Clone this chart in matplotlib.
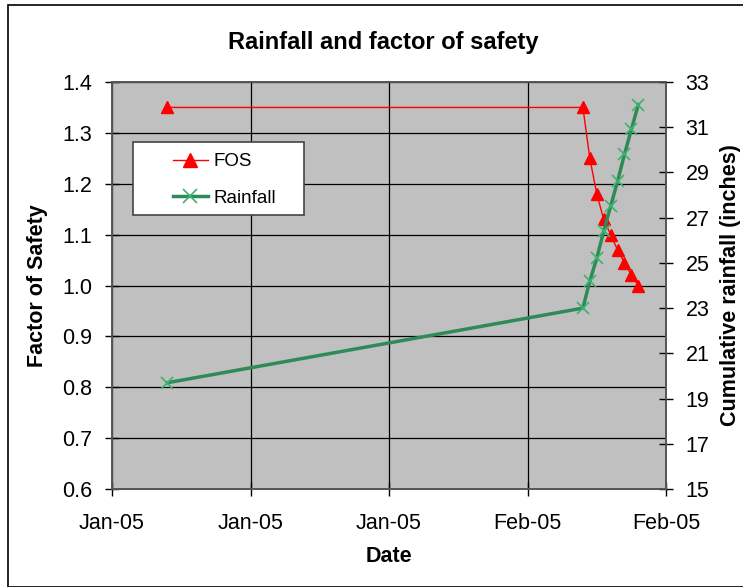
import datetime as dt

import matplotlib.pyplot as plt
import matplotlib.dates as mdates
from matplotlib.lines import Line2D
from matplotlib.patches import Rectangle

plt.rcParams['font.family'] = ['Liberation Sans', 'DejaVu Sans']

# Readings: one early reading, then every 12 hours during the storm
dates = [dt.datetime(2005, 1, 9)] + [
    dt.datetime(2005, 2, 8) + dt.timedelta(hours=12 * k) for k in range(9)
]
fos = [1.35, 1.35, 1.25, 1.18, 1.13, 1.10, 1.07, 1.045, 1.02, 1.00]
rainfall = [19.7, 23.0, 24.2, 25.2, 26.4, 27.5, 28.6, 29.8, 30.9, 32.0]

x_ticks = [dt.datetime(2005, 1, 5) + dt.timedelta(days=10 * k) for k in range(5)]
fos_ticks = [0.6, 0.7, 0.8, 0.9, 1.0, 1.1, 1.2, 1.3, 1.4]
rain_ticks = list(range(15, 34, 2))

red = '#FF0000'
green = '#2E8B57'
marker_green = '#3CB371'
tick_fs = 15.5
label_fs = 15.5

fig = plt.figure(figsize=(7.43, 5.87), dpi=100)
fig.patches.append(Rectangle((8 / 743, 0), 1, 1 - 5 / 587, transform=fig.transFigure,
                             fill=False, edgecolor='black', linewidth=1.2))

ax = fig.add_axes([112 / 743, 1 - 489 / 587, (666 - 112) / 743, (489 - 82) / 587])
ax.set_facecolor('#C0C0C0')
ax.plot(dates, fos, color=red, linewidth=1, marker='^', markersize=9,
        markeredgecolor=red, markerfacecolor=red, zorder=3)

ax.set_xlim(x_ticks[0], x_ticks[-1])
ax.set_xticks(x_ticks)
ax.xaxis.set_major_formatter(mdates.DateFormatter('%b-%y'))
ax.set_ylim(0.6, 1.4)
ax.set_yticks(fos_ticks)
ax.set_yticklabels([f'{v:.1f}' for v in fos_ticks])
ax.grid(True, color='black', linewidth=0.9)
ax.set_axisbelow(True)
ax.tick_params(direction='inout', length=10, width=1, labelsize=tick_fs, pad=9)
ax.tick_params(axis='x', pad=12)
for s in ax.spines.values():
    s.set_color('#555555')
    s.set_linewidth(1.2)

ax.set_xlabel('Date', fontsize=label_fs, fontweight='bold')
ax.xaxis.set_label_coords(0.5, (489 - 557) / 407)
ax.xaxis.label.set_va('center')
ax.set_ylabel('Factor of Safety', fontsize=label_fs, fontweight='bold')
ax.yaxis.set_label_coords((38 - 112) / 554, 0.5)
ax.yaxis.label.set_va('center')

ax2 = ax.twinx()
ax2.plot(dates, rainfall, color=green, linewidth=2.5, marker='x', markersize=9,
         markeredgecolor=marker_green, markeredgewidth=1.2, zorder=3)
ax2.set_ylim(15, 33)
ax2.set_yticks(rain_ticks)
ax2.tick_params(direction='inout', length=10, width=1, labelsize=tick_fs, pad=9)
ax2.set_ylabel('Cumulative rainfall (inches)', fontsize=label_fs, fontweight='bold')
ax2.yaxis.set_label_coords((731 - 112) / 554, 0.5)
ax2.yaxis.label.set_va('center')
for s in ax2.spines.values():
    s.set_color('#555555')
    s.set_linewidth(1.2)

# legend box drawn separately so the entries can sit inset from its left edge
ax2.add_patch(Rectangle((21 / 554, (489 - 215) / 407), 171 / 554, 73 / 407,
                        transform=ax2.transAxes, facecolor='white',
                        edgecolor='#444444', linewidth=1.2, zorder=4))
handles = [
    Line2D([], [], color=red, linewidth=1, marker='^', markersize=10),
    Line2D([], [], color=green, linewidth=2.5, marker='x', markersize=10,
           markeredgecolor=marker_green, markeredgewidth=1.2),
]
ax2.legend(handles, ['FOS', 'Rainfall'], loc='upper left',
           bbox_to_anchor=((173 - 112) / 554, (489 - 153) / 407), fontsize=13.5,
           frameon=False, borderpad=0, borderaxespad=0, labelspacing=1.05,
           handlelength=1.85, handletextpad=0.3)

fig.text((226 + 541) / 2 / 743, 1 - 42 / 587, 'Rainfall and factor of safety',
         ha='center', va='center', fontsize=17, fontweight='bold')

fig.savefig('out.png', dpi=100)
